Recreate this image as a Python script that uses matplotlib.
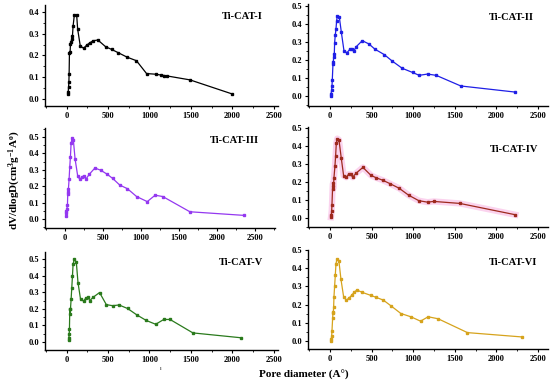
import matplotlib
matplotlib.use("Agg")
import matplotlib.pyplot as plt
from matplotlib.ticker import MultipleLocator, FormatStrFormatter

plt.rcParams['font.family'] = 'Liberation Serif'
plt.rcParams['font.weight'] = 'bold'
plt.rcParams['mathtext.fontset'] = 'custom'
plt.rcParams['mathtext.rm'] = 'Liberation Serif:bold'
plt.rcParams['mathtext.default'] = 'rm'

# pore size distributions
names = ["Ti-CAT-I", "Ti-CAT-II", "Ti-CAT-III", "Ti-CAT-IV", "Ti-CAT-V", "Ti-CAT-VI"]

cat1_d = [20, 20, 24, 28, 31, 35, 43, 47, 55, 63, 71, 79, 94, 122, 134, 165, 205, 244, 283, 323, 378,
          472, 543, 622, 732, 843, 965, 1075, 1142, 1181, 1213, 1488, 2000]
cat1_v = [0.023, 0.03, 0.055, 0.076, 0.116, 0.213, 0.217, 0.251, 0.263, 0.278, 0.289, 0.335, 0.386, 0.386,
          0.321, 0.245, 0.233, 0.248, 0.259, 0.268, 0.271, 0.24, 0.228, 0.213, 0.192, 0.176, 0.117, 0.114,
          0.11, 0.108, 0.106, 0.088, 0.023]

cat2_d = [12, 12, 20, 24, 28, 36, 40, 44, 52, 56, 64, 72, 80, 88, 112, 136, 168, 204, 240, 268, 284, 316,
          388, 468, 540, 652, 748, 868, 992, 1072, 1172, 1276, 1572, 2228]
cat2_v = [0.0, 0.01, 0.033, 0.055, 0.09, 0.178, 0.19, 0.215, 0.233, 0.296, 0.34, 0.37, 0.418, 0.444, 0.439,
          0.356, 0.252, 0.24, 0.26, 0.26, 0.248, 0.274, 0.307, 0.289, 0.26, 0.23, 0.194, 0.154, 0.131, 0.115,
          0.122, 0.115, 0.056, 0.022]

cat3_d = [17, 22, 22, 26, 35, 39, 43, 48, 57, 65, 74, 83, 96, 113, 135, 170, 200, 222, 248, 278, 322, 396,
          474, 557, 630, 722, 822, 943, 1083, 1187, 1287, 1643, 2352]
cat3_v = [0.02, 0.034, 0.048, 0.058, 0.084, 0.155, 0.165, 0.185, 0.245, 0.315, 0.38, 0.462, 0.494, 0.48,
          0.367, 0.261, 0.241, 0.255, 0.263, 0.243, 0.273, 0.311, 0.297, 0.273, 0.247, 0.207, 0.185, 0.137,
          0.106, 0.145, 0.137, 0.044, 0.022]

cat4_d = [12, 16, 20, 24, 32, 36, 40, 48, 60, 68, 76, 88, 108, 136, 164, 196, 224, 252, 272, 312, 396, 492,
          552, 632, 720, 832, 944, 1068, 1172, 1248, 1560, 2228]
cat4_v = [0.004, 0.018, 0.037, 0.074, 0.175, 0.193, 0.162, 0.224, 0.29, 0.346, 0.414, 0.441, 0.434, 0.331,
          0.235, 0.226, 0.243, 0.243, 0.226, 0.248, 0.281, 0.237, 0.224, 0.21, 0.191, 0.165, 0.127, 0.096,
          0.088, 0.092, 0.081, 0.018]

cat5_d = [24, 28, 32, 35, 39, 43, 47, 55, 63, 71, 79, 94, 118, 138, 169, 205, 236, 260, 280, 319, 398, 480,
          555, 634, 736, 846, 961, 1075, 1173, 1248, 1524, 2100]
cat5_v = [0.01, 0.026, 0.047, 0.079, 0.2, 0.168, 0.196, 0.257, 0.326, 0.395, 0.47, 0.5, 0.48, 0.358, 0.257,
          0.247, 0.267, 0.269, 0.249, 0.269, 0.298, 0.225, 0.219, 0.223, 0.202, 0.164, 0.13, 0.107, 0.136,
          0.136, 0.055, 0.026]

cat6_d = [12, 16, 20, 24, 32, 36, 40, 44, 48, 56, 64, 72, 84, 108, 132, 164, 196, 224, 260, 292, 324, 388,
          488, 552, 640, 736, 852, 972, 1088, 1180, 1300, 1652, 2312]
cat6_v = [0.0, 0.011, 0.026, 0.055, 0.124, 0.155, 0.16, 0.184, 0.243, 0.302, 0.361, 0.424, 0.45, 0.437,
          0.339, 0.243, 0.225, 0.234, 0.251, 0.269, 0.28, 0.267, 0.251, 0.24, 0.225, 0.192, 0.151, 0.133,
          0.109, 0.133, 0.122, 0.046, 0.022]

series = [(cat1_d, cat1_v), (cat2_d, cat2_v), (cat3_d, cat3_v),
          (cat4_d, cat4_v), (cat5_d, cat5_v), (cat6_d, cat6_v)]

# layout / style per panel
colors = ['#000000', '#1f1fe6', '#9438f0', '#9e2a1e', '#2a7a1c', '#d6a31c']
rects = [
    [0.0818, 0.7296, 0.4236, 0.2577],
    [0.5600, 0.7296, 0.4364, 0.2600],
    [0.0818, 0.4184, 0.4180, 0.2550],
    [0.5600, 0.4209, 0.4364, 0.2550],
    [0.0818, 0.1071, 0.4236, 0.2500],
    [0.5600, 0.1097, 0.4364, 0.2526],
]
xlims = [(-260, 2550), (-264, 2620), (-260, 2760), (-264, 2620), (-260, 2550), (-264, 2620)]
ylims = [(-0.032, 0.432), (-0.055, 0.51), (-0.055, 0.555), (-0.05, 0.505), (-0.048, 0.542), (-0.044, 0.50)]
label_pos = [(0.936, 0.89), (0.942, 0.87), (0.93, 0.88), (0.958, 0.78), (0.936, 0.89), (0.954, 0.87)]

fig = plt.figure(figsize=(5.5, 3.92), dpi=100)

for i, (d, v) in enumerate(series):
    ax = fig.add_axes(rects[i])
    c = colors[i]
    if i == 3:
        # pinkish highlight seen around the Ti-CAT-IV curve
        ax.plot(d, v, color='#fbd3ee', lw=4.5, zorder=1)
    ax.plot(d, v, color=c, lw=0.9, marker='s', ms=1.7, mfc=c, mec=c, zorder=2)
    ax.set_xlim(*xlims[i])
    ax.set_ylim(*ylims[i])
    ax.xaxis.set_major_locator(MultipleLocator(500))
    ax.xaxis.set_minor_locator(MultipleLocator(250))
    ax.yaxis.set_major_locator(MultipleLocator(0.1))
    ax.yaxis.set_minor_locator(MultipleLocator(0.05))
    ax.yaxis.set_major_formatter(FormatStrFormatter('%.1f'))
    for s in ['top', 'right']:
        ax.spines[s].set_visible(False)
    for s in ['left', 'bottom']:
        ax.spines[s].set_linewidth(1.0)
    ax.tick_params(which='major', direction='out', length=2.5, width=0.8, labelsize=6, pad=1.5)
    ax.tick_params(which='minor', direction='out', length=1.5, width=0.6)
    ax.text(label_pos[i][0], label_pos[i][1], names[i], transform=ax.transAxes,
            ha='right', va='center', fontsize=7.5, fontweight='bold')

fig.text(0.552, 0.043, 'Pore diameter (A°)', ha='center', va='center', fontsize=8, fontweight='bold')
fig.text(0.027, 0.54, r'dV/dlogD(cm$^{3}$g$^{-1}$A$^{o}$)', ha='center', va='center',
         rotation=90, fontsize=8, fontweight='bold')
fig.text(0.292, 0.06, 'ı', ha='center', va='center', fontsize=4, color='#555555')

fig.savefig('out.png', dpi=100)
plt.close(fig)
